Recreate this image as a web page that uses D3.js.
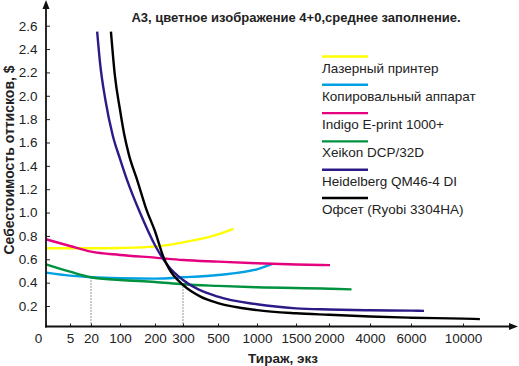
<!DOCTYPE html>
<html><head><meta charset="utf-8">
<script src="https://cdn.jsdelivr.net/npm/d3@7/dist/d3.min.js"></script>
<style>
html,body{margin:0;padding:0;background:#fff;}
svg{display:block;font-family:"Liberation Sans",Arial,sans-serif;}
</style></head>
<body>
<svg id="chart" width="519" height="366"></svg>
<script>
// ---- data ----
const title = "А3, цветное изображение 4+0,среднее заполнение.";
const yLabel = "Себестоимость оттисков, $";
const xLabel = "Тираж, экз";
const xTicks = [0, 5, 20, 100, 200, 300, 500, 1000, 1500, 2000, 4000, 6000, 10000];
const yTicks = [0.2, 0.4, 0.6, 0.8, 1.0, 1.2, 1.4, 1.6, 1.8, 2.0, 2.2, 2.4, 2.6];
const seriesNames = ["Лазерный принтер", "Копировальный аппарат", "Indigo E-print 1000+", "Xeikon DCP/32D", "Heidelberg QM46-4 DI", "Офсет (Ryobi 3304HA)"];
const laser = [[0,0.694],[5,0.694],[20,0.694],[100,0.697],[200,0.708],[300,0.745],[500,0.814],[700,0.86]];
const copier = [[0,0.486],[5,0.46],[20,0.446],[100,0.437],[200,0.434],[300,0.446],[500,0.466],[1000,0.514],[1200,0.56]];
const indigo = [[0,0.771],[5,0.714],[20,0.665],[100,0.637],[200,0.614],[300,0.594],[500,0.58],[1000,0.566],[1500,0.555],[2050,0.55]];
const xeikon = [[0,0.557],[5,0.494],[20,0.446],[100,0.423],[200,0.406],[300,0.386],[500,0.372],[1000,0.36],[2000,0.348],[3100,0.342]];
const heidelberg = [[37,2.55],[45,2.28],[60,1.96],[80,1.66],[100,1.46],[120,1.28],[157,1.0],[200,0.72],[250,0.534],[300,0.423],[500,0.28],[1000,0.215],[1500,0.18],[2000,0.17],[4000,0.163],[6000,0.16],[7000,0.158]];
const offset = [[75,2.55],[86,2.17],[100,1.88],[112,1.67],[125,1.5],[150,1.27],[175,1.03],[200,0.84],[230,0.62],[250,0.52],[300,0.38],[400,0.28],[500,0.225],[1000,0.165],[1500,0.138],[2000,0.125],[4000,0.11],[6000,0.1],[10000,0.092],[11300,0.088]];
const dropLines = [[20,0.446],[300,0.385]];

// ---- layout / style ----
const colors = ["#ffff00", "#00a0e3", "#e4007e", "#00923f", "#2b1a87", "#000000"];
const allSeries = [laser, copier, indigo, xeikon, heidelberg, offset];
const xRange = [46, 70, 91, 120, 155, 183, 218, 257, 296, 329, 370, 411, 463];
const AXIS_X = 46, AXIS_Y = 326.5;
const FONT = 13.5;

const svg = d3.select("#chart");
const x = d3.scaleLinear().domain(xTicks).range(xRange);
const y = d3.scaleLinear().domain([0.2, 2.6]).range([306, 25.7]);

// drop lines
svg.append("g").selectAll("line").data(dropLines).join("line")
  .attr("x1", d => x(d[0])).attr("x2", d => x(d[0]))
  .attr("y1", AXIS_Y).attr("y2", d => y(d[1]))
  .attr("stroke", "#333").attr("stroke-width", 1).attr("stroke-dasharray", "1,2");

// curves
const line = d3.line().x(d => x(d[0])).y(d => y(d[1])).curve(d3.curveMonotoneX);
svg.append("g").selectAll("path").data(allSeries).join("path")
  .attr("d", line).attr("fill", "none")
  .attr("stroke", (d, i) => colors[i]).attr("stroke-width", 2.4)
  .attr("stroke-linecap", "butt");

// y axis
const yAxis = d3.axisLeft(y).tickValues(yTicks).tickSize(-4).tickPadding(8.5).tickFormat(d3.format(".1f"));
const gy = svg.append("g").attr("transform", `translate(${AXIS_X},0)`).call(yAxis);
gy.select(".domain").remove();
gy.selectAll("text").attr("font-size", FONT).attr("fill", "#222").attr("font-family", "Liberation Sans, Arial, sans-serif");
gy.selectAll("line").attr("stroke", "#222");

// x axis
const xAxis = d3.axisBottom(x).tickValues(xTicks).tickSize(-3).tickPadding(6.5).tickFormat(d => String(d));
const gx = svg.append("g").attr("transform", `translate(0,${AXIS_Y})`).call(xAxis);
gx.select(".domain").remove();
gx.selectAll("text").attr("font-size", FONT).attr("fill", "#222").attr("font-family", "Liberation Sans, Arial, sans-serif")
  .attr("dx", d => d === 0 ? -8 : 0);
gx.selectAll("line").attr("stroke", "#222");

// axis lines with arrows
svg.append("line").attr("x1", AXIS_X).attr("x2", AXIS_X).attr("y1", AXIS_Y + 1).attr("y2", 6)
  .attr("stroke", "#111").attr("stroke-width", 1.8);
svg.append("path").attr("d", `M${AXIS_X - 3.5},9 L${AXIS_X},0 L${AXIS_X + 3.5},9 Z`).attr("fill", "#111");
svg.append("line").attr("x1", AXIS_X - 1).attr("x2", 512).attr("y1", AXIS_Y).attr("y2", AXIS_Y)
  .attr("stroke", "#111").attr("stroke-width", 1.8);
svg.append("path").attr("d", `M509,${AXIS_Y - 3.5} L518,${AXIS_Y} L509,${AXIS_Y + 3.5} Z`).attr("fill", "#111");

// title & labels
svg.append("text").attr("x", 296).attr("y", 22).attr("text-anchor", "middle")
  .attr("font-size", 13).attr("font-weight", "bold").attr("fill", "#222").text(title);
svg.append("text").attr("transform", "translate(14,160) rotate(-90)").attr("text-anchor", "middle")
  .attr("font-size", 14).attr("font-weight", "bold").attr("fill", "#222").text(yLabel);
svg.append("text").attr("x", 283).attr("y", 363).attr("text-anchor", "middle")
  .attr("font-size", FONT).attr("font-weight", "bold").attr("fill", "#222").text(xLabel);

// legend
const lg = svg.append("g").selectAll("g").data(seriesNames).join("g")
  .attr("transform", (d, i) => `translate(322,${56.5 + i * 28.3})`);
lg.append("line").attr("x1", 0).attr("x2", 46).attr("y1", 0).attr("y2", 0)
  .attr("stroke", (d, i) => colors[i]).attr("stroke-width", 2.4);
lg.append("text").attr("x", 0).attr("y", 16).attr("font-size", FONT).attr("fill", "#222").text(d => d);
</script>
</body></html>
